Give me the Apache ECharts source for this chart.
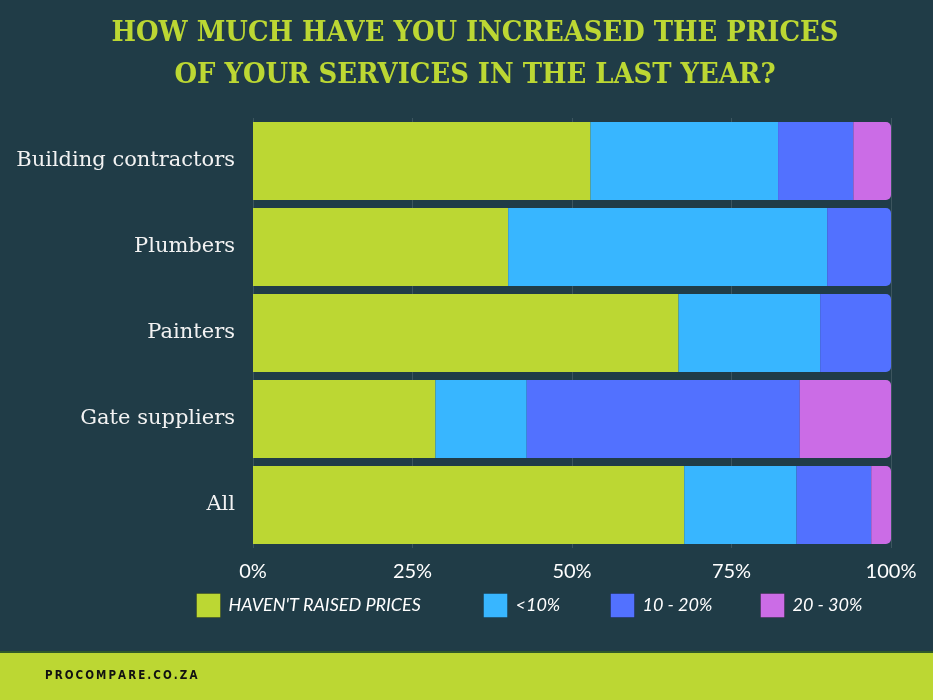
<!DOCTYPE html>
<html><head><meta charset="utf-8">
<script src="https://cdn.jsdelivr.net/npm/echarts@6/dist/echarts.min.js"></script>
<style>html,body{margin:0;padding:0;background:#203c47}#c{width:933px;height:700px}</style>
</head><body><div id="c"></div>
<script>
const categories = ['Building contractors', 'Plumbers', 'Painters', 'Gate suppliers', 'All'];
const seriesNames = ["HAVEN'T RAISED PRICES", '<10%', '10 - 20%', '20 - 30%'];
const notRaised = [52.9, 40.0, 66.7, 28.6, 67.6];
const under10 = [29.4, 50.0, 22.2, 14.3, 17.6];
const from10to20 = [11.8, 10.0, 11.1, 42.8, 11.7];
const from20to30 = [5.9, 0, 0, 14.3, 3.1];
const xTicks = [0, 25, 50, 75, 100];
const colors = ['#bcd733', '#38b6ff', '#5271ff', '#cb6ce6'];

const all = [notRaised, under10, from10to20, from20to30];
const lastIdx = categories.map((c, i) => { let k = 0; all.forEach((a, s) => { if (a[i] > 0) k = s; }); return k; });

const series = all.map((arr, s) => ({
  name: seriesNames[s], type: 'bar', stack: 'total', barWidth: 78,
  itemStyle: { color: colors[s] },
  emphasis: { disabled: true },
  data: arr.map((v, i) => lastIdx[i] === s ? { value: v, itemStyle: { borderRadius: [0, 5, 5, 0] } } : v)
}));

const legendLefts = [196, 483, 610, 760];
const legends = seriesNames.map((n, i) => ({
  data: [n], left: legendLefts[i], top: 593, itemWidth: 24, itemHeight: 24, itemGap: 0, padding: 0,
  icon: 'rect', selectedMode: false,
  itemStyle: { borderColor: 'rgba(0,0,0,0.25)', borderWidth: 1 },
  textStyle: { color: '#ffffff', fontFamily: 'Lato', fontStyle: 'italic', fontSize: 18, padding: [0, 0, 0, 3] }
}));

const chart = echarts.init(document.getElementById('c'));
chart.setOption({
  backgroundColor: '#203c47',
  animation: false,
  title: {
    text: 'HOW MUCH HAVE YOU INCREASED THE PRICES\nOF YOUR SERVICES IN THE LAST YEAR?',
    left: 470, top: 8, textAlign: 'center',
    textStyle: { color: '#bcd733', fontFamily: 'DejaVu Serif Condensed', fontWeight: 'bold', fontSize: 28.8, lineHeight: 42, align: 'center' }
  },
  legend: legends,
  grid: { left: 253, right: 42, top: 118, bottom: 152 },
  xAxis: {
    type: 'value', min: 0, max: 100, interval: 25,
    axisLine: { show: false }, axisTick: { show: false },
    splitLine: { show: true, lineStyle: { color: 'rgba(255,255,255,0.13)', width: 1 } },
    axisLabel: { formatter: v => xTicks.includes(v) ? v + '%' : '', color: '#ffffff', fontFamily: 'Lato', fontSize: 20, margin: 14 }
  },
  yAxis: {
    type: 'category', data: categories, inverse: true,
    axisLine: { show: false }, axisTick: { show: false },
    axisLabel: { color: '#f2f2f2', fontFamily: 'DejaVu Serif', fontSize: 21, margin: 18, padding: [4, 0, 0, 0] }
  },
  series: series,
  graphic: [
    { type: 'rect', shape: { x: 0, y: 652, width: 933, height: 48 }, style: { fill: '#bcd733' }, z: 10 },
    { type: 'rect', shape: { x: 0, y: 651, width: 933, height: 2 }, style: { fill: '#2f5a2a' }, z: 10 },
    { type: 'text', x: 45, y: 676, style: { text: 'P\u2009R\u2009O\u2009C\u2009O\u2009M\u2009P\u2009A\u2009R\u2009E\u2009.\u2009C\u2009O\u2009.\u2009Z\u2009A', fill: '#111', font: 'bold 11.5px "DejaVu Sans Condensed"', textVerticalAlign: 'middle' }, z: 11 }
  ]
});
</script></body></html>
